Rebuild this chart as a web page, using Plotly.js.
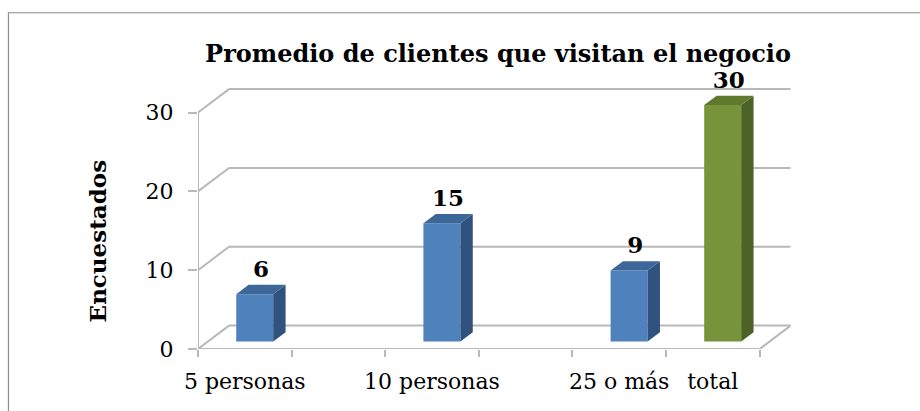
<!DOCTYPE html>
<html>
<head>
<meta charset="utf-8">
<script src="https://cdn.plot.ly/plotly-3.0.1.min.js"></script>
<style>html,body{margin:0;padding:0;background:#fff;}#chart{width:920px;height:411px;}</style>
</head>
<body>
<div id="chart"></div>
<script>
// ---- data ----
const categories = ["5 personas", "", "10 personas", "", "25 o más", "total"];
const values = [6, null, 15, null, 9, 30];
const yTicks = [0, 10, 20, 30];
const chartTitle = "Promedio de clientes que visitan el negocio";
const yTitle = "Encuestados";

// ---- styles / projection ----
const FRONT = {blue: "#4f81bd", green: "#77933c"};
const SIDE = {blue: "#30527e", green: "#4c6226"};
const TOP = {blue: "#3d6798", green: "#5f7a2e"};
const colorKey = categories.map(c => c === "total" ? "green" : "blue");
const DX = 0.331, DY = 2.97;   // depth vector of the floor (x units, y units)
const F0 = 0.32, DEP = 0.40, W = 0.395;
const GRID = "#b8b8b8";
const serif = "DejaVu Serif, serif";

const idx = categories.map((_, i) => i);
const xMin = -0.5, xMax = categories.length - 0.5;
const boundaries = idx.map(i => i - 0.5).concat([xMax]);

const shapes = [];
function line(x0, y0, x1, y1) {
  shapes.push({type: "line", xref: "x", yref: "y", x0, y0, x1, y1, layer: "below",
    line: {color: GRID, width: 2}});
}
yTicks.forEach(t => {
  line(xMin, t, xMin + DX, t + DY);
  line(xMin + DX, t + DY, xMax + DX, t + DY);
});
line(xMin, 0, xMin, yTicks[yTicks.length - 1]);
line(xMin, 0, xMax, 0);
line(xMax, 0, xMax + DX, DY);
// outer frame
shapes.push({type: "rect", xref: "paper", yref: "paper",
  x0: (8.3 - 198) / 599.5, x1: (940 - 198) / 599.5,
  y0: (349.3 - 440) / 268.6, y1: (349.3 - 12.3) / 268.6,
  line: {color: "#8c8c8c", width: 1.2}, fillcolor: "rgba(0,0,0,0)", layer: "below"});

const traces = [];
const bi = idx.filter(i => values[i] !== null);
traces.push({type: "bar", x: bi.map(i => i + F0 * DX), y: bi.map(i => values[i]),
  base: bi.map(() => F0 * DY), width: W,
  marker: {color: bi.map(i => FRONT[colorKey[i]]), line: {width: 0}},
  hoverinfo: "skip", showlegend: false});
bi.forEach(i => {
  const xc = i + F0 * DX, b = F0 * DY, v = values[i];
  const xl = xc - W / 2, xr = xc + W / 2;
  const dx = DEP * DX, dy = DEP * DY;
  traces.push({type: "scatter", mode: "lines", fill: "toself",
    x: [xr, xr + dx, xr + dx, xr, xr], y: [b, b + dy, b + dy + v, b + v, b],
    fillcolor: SIDE[colorKey[i]], line: {width: 0, color: SIDE[colorKey[i]]},
    hoverinfo: "skip", showlegend: false});
  traces.push({type: "scatter", mode: "lines", fill: "toself",
    x: [xl, xr, xr + dx, xl + dx, xl], y: [b + v, b + v, b + v + dy, b + v + dy, b + v],
    fillcolor: TOP[colorKey[i]], line: {width: 0, color: TOP[colorKey[i]]},
    hoverinfo: "skip", showlegend: false});
});
traces.push({type: "scatter", mode: "text", cliponaxis: false,
  x: bi.map(i => i + F0 * DX + DEP * DX / 2),
  y: bi.map(i => values[i] + F0 * DY + DEP * DY + 0.25),
  text: bi.map(i => String(values[i])), textposition: "top center",
  textfont: {family: serif, size: 23, color: "#000", weight: "bold"},
  hoverinfo: "skip", showlegend: false});

const layout = {
  width: 920, height: 411,
  margin: {l: 198, r: 122.5, t: 80.7, b: 61.7},
  paper_bgcolor: "#fff", plot_bgcolor: "rgba(0,0,0,0)",
  showlegend: false,
  title: {text: "<b>" + chartTitle + "</b>", x: 498 / 920, xanchor: "center",
    y: 1 - 53.5 / 411, yanchor: "middle",
    font: {family: serif, size: 24, color: "#000"}},
  xaxis: {range: [xMin, xMax + 0.4], tickmode: "array", tickvals: idx, ticktext: categories,
    ticks: "", showgrid: false, zeroline: false, showline: false, fixedrange: true,
    tickfont: {family: serif, size: 22, color: "#000"}, ticklabelstandoff: 17,
    minor: {tickmode: "array", tickvals: boundaries, ticks: "outside", ticklen: 7,
      tickwidth: 2, tickcolor: GRID, showgrid: false}},
  yaxis: {range: [0, 34], tickmode: "array", tickvals: yTicks, ticks: "outside",
    ticklen: 9, tickwidth: 2, tickcolor: GRID, showgrid: false, zeroline: false,
    showline: false, fixedrange: true, ticklabelstandoff: 10,
    tickfont: {family: serif, size: 22, color: "#000"}},
  annotations: [{text: "<b>" + yTitle + "</b>", textangle: -90, xref: "paper", yref: "y",
    x: (97.5 - 198) / 599.5, y: 13.6, xanchor: "center", yanchor: "middle", showarrow: false,
    font: {family: serif, size: 23, color: "#000"}}],
  shapes: shapes
};
Plotly.newPlot("chart", traces, layout, {staticPlot: true, displayModeBar: false});
</script>
</body>
</html>
